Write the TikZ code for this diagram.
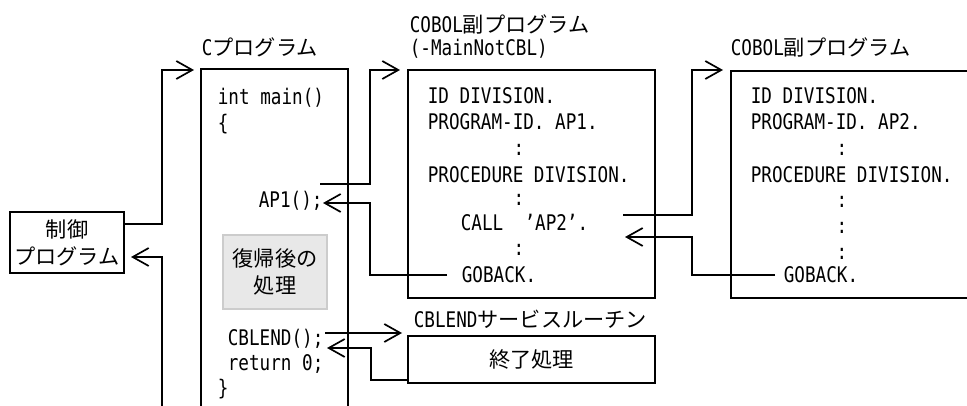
\documentclass[tikz,border=0pt]{standalone}
\usepackage{fontspec}
\setmainfont{DejaVu Sans Mono}[FakeStretch=0.82]
\newfontfamily\jp{Noto Sans CJK JP}[Scale=0.986]
\usetikzlibrary{arrows.meta}
\begin{document}
\begin{tikzpicture}[x=1pt,y=-1pt,line width=1.7pt,
  arr/.style={-{Straight Barb[length=16pt,width=18pt]}},
  txt/.style={inner sep=0pt,font=\fontsize{21.5pt}{27pt}\selectfont},
  code/.style={txt,anchor=west,text height=15.5pt,text depth=0pt},
  box/.style={draw,rectangle,inner sep=0pt,txt,align=center},
  graybox/.style={rectangle,inner sep=0pt,txt,align=center,fill=black!9,draw=black!20,line width=1.2pt}]
\useasboundingbox (0,0) rectangle (967,406);

% control program
\node[box,minimum width=114pt,minimum height=61pt] (ctrl) at (67,242.5) {{\jp 制御}\\{\jp プログラム}};

% C program box (open bottom)
\coordinate (cbl) at (201,406);
\coordinate (ctl) at (201,69);
\coordinate (ctr) at (348,69);
\coordinate (cbr) at (348,406);
\draw (cbl) -- (ctl) -- (ctr) -- (cbr);
\node[code] (ctitle) at (201,48) {C{\jp プログラム}};
\node[code] (cmain) at (217,97) {int main()};
\node[code] (cbrace) at (217,123) {\{};
\node[code] (cap1) at (258,200) {AP1();};
\node[graybox,minimum width=104pt,minimum height=74pt] (after) at (275,272) {{\jp 復帰後の}\\{\jp 処理}};
\node[code] (ccbl) at (227,338) {CBLEND();};
\node[code] (cret) at (227,363) {return 0;};
\node[code] (cend) at (217,388) {\}};

% COBOL subprogram 1
\node[box,minimum width=247pt,minimum height=228pt] (box1) at (531.5,184) {};
\node[code] (b1t1) at (409,25) {COBOL{\jp 副プログラム}};
\node[code] (b1t2) at (409,48) {(-MainNotCBL)};
\node[code] (b1l1) at (427,96) {ID DIVISION.};
\node[code] (b1l2) at (427,122) {PROGRAM-ID. AP1.};
\node[code,anchor=center] (b1d1) at (519,148) {:};
\node[code] (b1l3) at (427,175) {PROCEDURE DIVISION.};
\node[code,anchor=center] (b1d2) at (519,198) {:};
\node[code] (b1call) at (460,223) {CALL\ \ 'AP2'.};
\node[code,anchor=center] (b1d3) at (519,248) {:};
\node[code] (b1gb) at (461,275) {GOBACK.};

% CBLEND service routine
\node[code] (svct) at (413,320) {CBLEND{\jp サービスルーチン}};
\node[box,minimum width=247pt,minimum height=47pt] (svc) at (531.5,359.5) {{\jp 終了処理}};

% COBOL subprogram 2 (open right)
\coordinate (b2tr) at (967,71);
\coordinate (b2tl) at (731,71);
\coordinate (b2bl) at (731,298);
\coordinate (b2br) at (967,298);
\draw (b2tr) -- (b2tl) -- (b2bl) -- (b2br);
\node[code] (b2t1) at (730,48) {COBOL{\jp 副プログラム}};
\node[code] (b2l1) at (750,96) {ID DIVISION.};
\node[code] (b2l2) at (750,122) {PROGRAM-ID. AP2.};
\node[code,anchor=center] (b2d1) at (842,148) {:};
\node[code] (b2l3) at (750,175) {PROCEDURE DIVISION.};
\node[code,anchor=center] (b2d2) at (842,200) {:};
\node[code,anchor=center] (b2d3) at (842,226) {:};
\node[code,anchor=center] (b2d4) at (842,252) {:};
\node[code] (b2gb) at (783,275) {GOBACK.};

% connector points
\coordinate (p1) at (124,224);
\coordinate (p1b) at (162,70);
\coordinate (p1t) at (194,70);
\coordinate (p2s) at (162,406);
\coordinate (p2b) at (162,257);
\coordinate (p2t) at (131,257);
\coordinate (p3s) at (320,184);
\coordinate (p3b) at (370,70);
\coordinate (p3t) at (400,70);
\coordinate (p4s) at (447,275);
\coordinate (p4b) at (370,203);
\coordinate (p4t) at (323,203);
\coordinate (p5s) at (325,333);
\coordinate (p5t) at (402,333);
\coordinate (p6s) at (408,380);
\coordinate (p6b) at (371,348);
\coordinate (p6t) at (327,348);
\coordinate (p7s) at (623,215);
\coordinate (p7b) at (692,70);
\coordinate (p7t) at (723,70);
\coordinate (p8s) at (775,275);
\coordinate (p8b) at (692,237);
\coordinate (p8t) at (625,237);

\draw[arr] (p1) -| (p1b) -- (p1t);
\draw[arr] (p2s) -- (p2b) -- (p2t);
\draw[arr] (p3s) -| (p3b) -- (p3t);
\draw[arr] (p4s) -| (p4b) -- (p4t);
\draw[arr] (p5s) -- (p5t);
\draw[arr] (p6s) -| (p6b) -- (p6t);
\draw[arr] (p7s) -| (p7b) -- (p7t);
\draw[arr] (p8s) -| (p8b) -- (p8t);
\end{tikzpicture}
\end{document}
